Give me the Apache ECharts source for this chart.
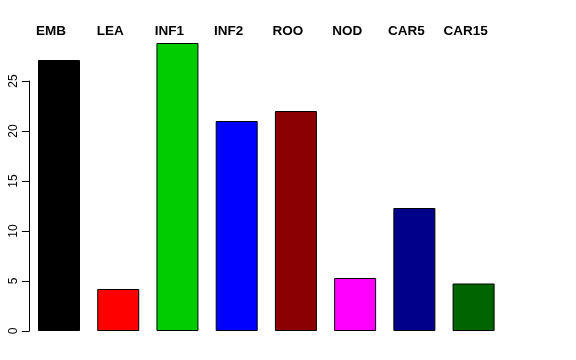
<!DOCTYPE html>
<html><head><meta charset="utf-8">
<script src="https://cdn.jsdelivr.net/npm/echarts@6/dist/echarts.min.js"></script>
<style>html,body{margin:0;padding:0;background:#fff}#c{width:576px;height:360px}</style>
</head><body><div id="c"></div>
<script>
var categories = ['EMB','LEA','INF1','INF2','ROO','NOD','CAR5','CAR15'];
var values = [27.1, 4.2, 28.8, 21.0, 22.0, 5.3, 12.3, 4.75];
var barColors = ['#000000','#FF0000','#00CD00','#0000FF','#8B0000','#FF00FF','#00008B','#006400'];
var yTicks = [0,5,10,15,20,25];

var chart = echarts.init(document.getElementById('c'), null, {renderer:'canvas'});
chart.setOption({
  animation:false,
  backgroundColor:'#fff',
  grid:{left:29.4, right:72.8, top:81, bottom:29, containLabel:false},
  xAxis:{type:'category', data:categories, position:'top',
    axisLine:{show:false}, axisTick:{show:false},
    axisLabel:{fontFamily:'Liberation Sans, Arial, sans-serif', fontWeight:'bold', fontSize:13.5, color:'#000', margin:43, padding:[0,16,0,0], interval:0}},
  yAxis:{type:'value', min:yTicks[0], max:yTicks[yTicks.length-1], interval:5,
    splitLine:{show:false},
    axisLine:{show:true, lineStyle:{color:'#000', width:1}},
    axisTick:{show:true, length:7.5, lineStyle:{color:'#000'}},
    axisLabel:{rotate:90, fontFamily:'Liberation Sans, Arial, sans-serif', fontSize:12, color:'#000', margin:10}},
  series:[{type:'bar', clip:false, barWidth:42,
    data: values.map(function(v,i){return {value:v, itemStyle:{color:barColors[i]}};}),
    itemStyle:{borderColor:'#000', borderWidth:1}}]
});
</script></body></html>
